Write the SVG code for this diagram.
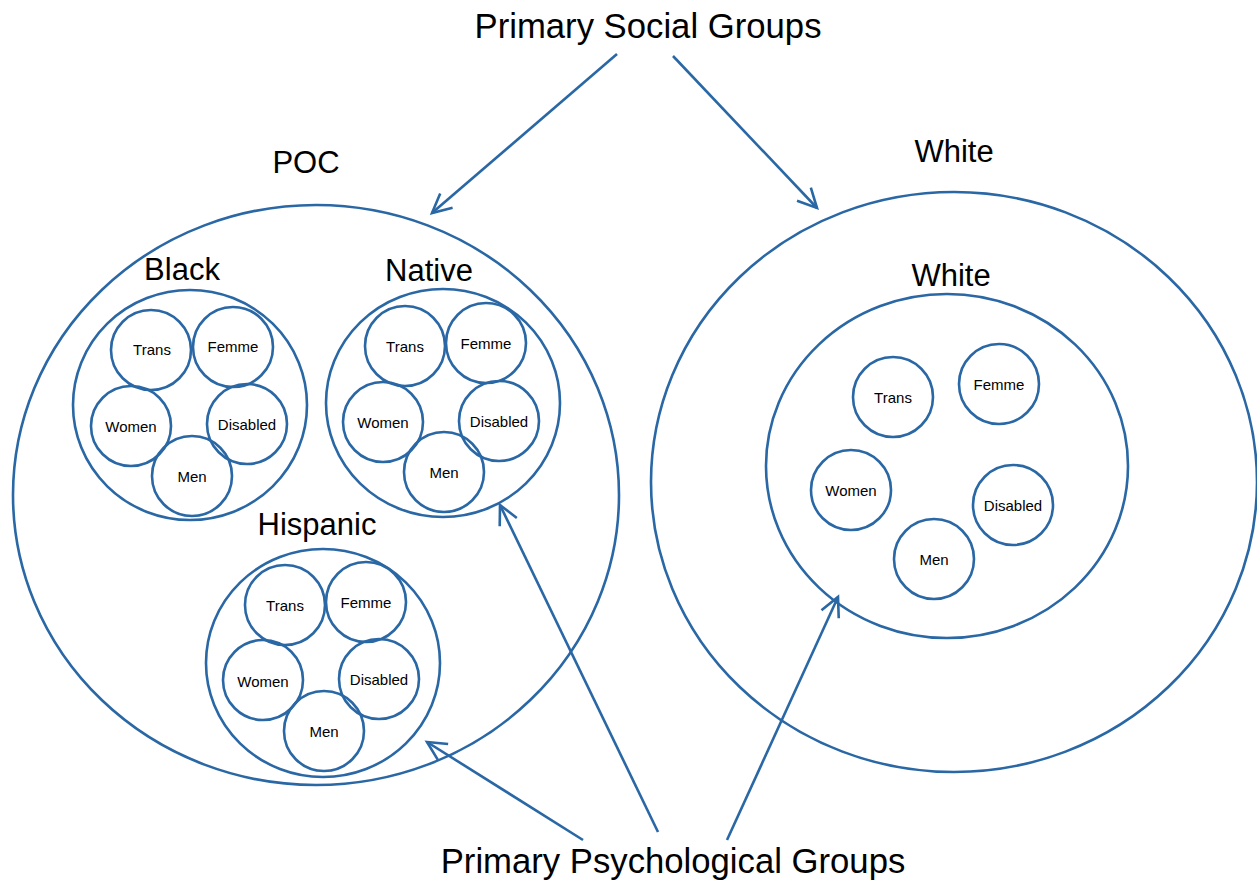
<svg xmlns="http://www.w3.org/2000/svg" width="1257" height="882" viewBox="0 0 1257 882">
<style>
.c{fill:none;stroke:#2a67a5;stroke-width:2.6}
.t{font-family:"Liberation Sans",Arial,sans-serif;fill:#000;text-anchor:middle}
.big{font-size:34.7px}
.mid{font-size:31px}
.sm{font-size:15px}
.ln{stroke:#2a67a5;stroke-width:2.6;fill:none}
</style>
<defs>
<marker id="ah" markerUnits="userSpaceOnUse" markerWidth="30" markerHeight="30" refX="20" refY="10" orient="auto" viewBox="0 0 30 20">
<path d="M1,0.5 L20,10 L1,19.5" fill="none" stroke="#2a67a5" stroke-width="2.6"/>
</marker>
</defs>
<rect width="1257" height="882" fill="#fff"/>
<g id="title-social"><text class="t big" x="648" y="38">Primary Social Groups</text></g>
<g id="title-psych"><text class="t big" x="673" y="873">Primary Psychological Groups</text></g>
<g id="poc">
<ellipse class="c" cx="316" cy="495" rx="303" ry="290"/>
<text class="t mid" x="306" y="173">POC</text>
</g>
<g id="white-outer">
<ellipse class="c" cx="954" cy="482" rx="303" ry="290"/>
<text class="t mid" x="954" y="162">White</text>
</g>
<g id="black">
<text class="t mid" x="182" y="280">Black</text>
<ellipse class="c" cx="190" cy="405" rx="117" ry="115"/>
<circle class="c" cx="151" cy="350" r="40"/><text class="t sm" x="152" y="355">Trans</text>
<circle class="c" cx="233" cy="347" r="40"/><text class="t sm" x="233" y="352">Femme</text>
<circle class="c" cx="131" cy="426" r="40"/><text class="t sm" x="131" y="432">Women</text>
<circle class="c" cx="247" cy="424" r="40"/><text class="t sm" x="247" y="430">Disabled</text>
<circle class="c" cx="192" cy="476" r="40"/><text class="t sm" x="192" y="482">Men</text>
</g>
<g id="native">
<text class="t mid" x="429" y="281">Native</text>
<ellipse class="c" cx="443" cy="403" rx="117" ry="114"/>
<circle class="c" cx="405" cy="346" r="40"/><text class="t sm" x="405" y="352">Trans</text>
<circle class="c" cx="486" cy="343" r="40"/><text class="t sm" x="486" y="349">Femme</text>
<circle class="c" cx="383" cy="422" r="40"/><text class="t sm" x="383" y="428">Women</text>
<circle class="c" cx="499" cy="421" r="40"/><text class="t sm" x="499" y="427">Disabled</text>
<circle class="c" cx="444" cy="472" r="40"/><text class="t sm" x="444" y="478">Men</text>
</g>
<g id="hispanic">
<text class="t mid" x="317" y="535">Hispanic</text>
<ellipse class="c" cx="323" cy="663" rx="117" ry="114"/>
<circle class="c" cx="285" cy="605" r="40"/><text class="t sm" x="285" y="611">Trans</text>
<circle class="c" cx="366" cy="602" r="40"/><text class="t sm" x="366" y="608">Femme</text>
<circle class="c" cx="263" cy="680" r="40"/><text class="t sm" x="263" y="687">Women</text>
<circle class="c" cx="379" cy="679" r="40"/><text class="t sm" x="379" y="685">Disabled</text>
<circle class="c" cx="324" cy="731" r="40"/><text class="t sm" x="324" y="737">Men</text>
</g>
<g id="white-inner">
<text class="t mid" x="951" y="286">White</text>
<ellipse class="c" cx="947" cy="466" rx="181" ry="172"/>
<circle class="c" cx="893" cy="397" r="40"/><text class="t sm" x="893" y="403">Trans</text>
<circle class="c" cx="999" cy="384" r="40"/><text class="t sm" x="999" y="390">Femme</text>
<circle class="c" cx="851" cy="490" r="40"/><text class="t sm" x="851" y="496">Women</text>
<circle class="c" cx="1013" cy="505" r="40"/><text class="t sm" x="1013" y="511">Disabled</text>
<circle class="c" cx="934" cy="559" r="40"/><text class="t sm" x="934" y="565">Men</text>
</g>
<g id="connectors">
<line class="ln" x1="617" y1="54" x2="432" y2="213" marker-end="url(#ah)"/>
<line class="ln" x1="673" y1="56" x2="817" y2="208" marker-end="url(#ah)"/>
<line class="ln" x1="583" y1="840" x2="427" y2="742" marker-end="url(#ah)"/>
<line class="ln" x1="658" y1="832" x2="500" y2="505" marker-end="url(#ah)"/>
<line class="ln" x1="727" y1="840" x2="838" y2="597" marker-end="url(#ah)"/>
</g>
</svg>
